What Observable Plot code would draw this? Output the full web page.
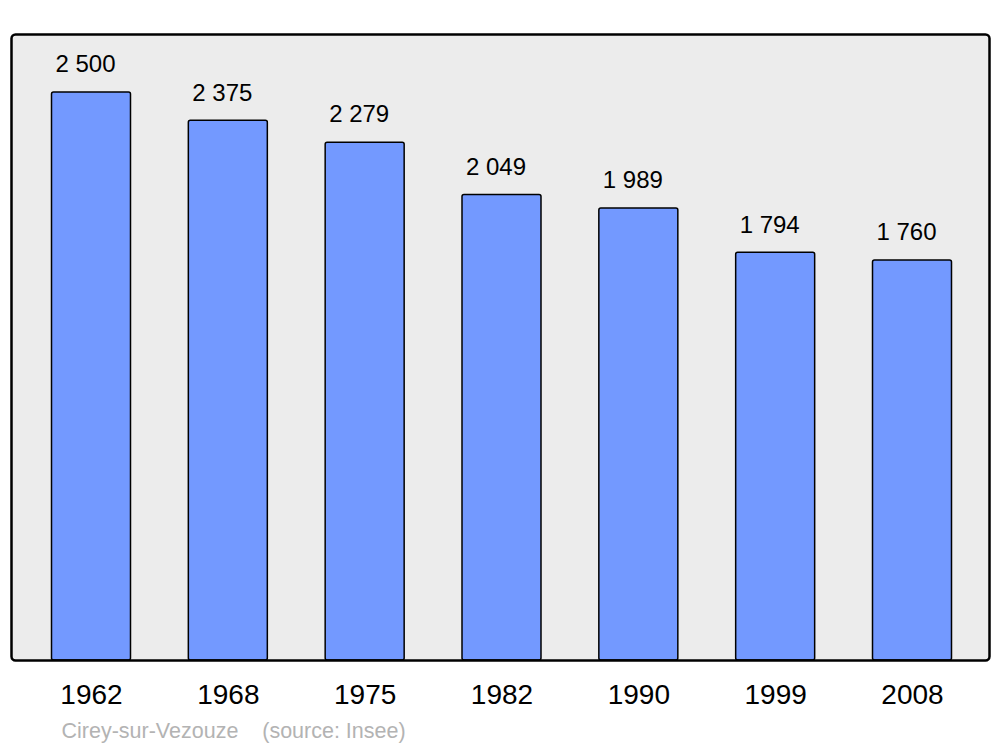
<!DOCTYPE html>
<html>
<head>
<meta charset="utf-8">
<script src="https://cdn.jsdelivr.net/npm/d3@7"></script>
<script src="https://cdn.jsdelivr.net/npm/@observablehq/plot@0.6"></script>
<style>
  html, body { margin: 0; padding: 0; background: #ffffff; }
  #chart svg { display: block; }
</style>
</head>
<body>
<div id="chart"></div>
<script>
const years = ["1962", "1968", "1975", "1982", "1990", "1999", "2008"];
const population = [2500, 2375, 2279, 2049, 1989, 1794, 1760];
const caption = "Cirey-sur-Vezouze\u00a0\u00a0\u00a0\u00a0(source: Insee)";

const data = years.map((y, i) => ({year: y, pop: population[i]}));
const fmt = d3.formatLocale({decimal: ",", thousands: "\u00a0", grouping: [3], currency: ["", ""]}).format(",");

const chart = Plot.plot({
  width: 1000,
  height: 747,
  marginLeft: 11,
  marginRight: 11,
  marginTop: 34,
  marginBottom: 87,
  style: {fontFamily: "'Liberation Sans', Arial, sans-serif", background: "#ffffff"},
  x: {domain: years, range: [51.5, 951.5], paddingInner: 0.4227, paddingOuter: 0, round: false, label: null},
  y: {domain: [0, 2755], axis: null},
  marks: [
    Plot.frame({fill: "#ececec", stroke: "none", rx: 4}),
    Plot.barY(data, {x: "year", y: "pop", fill: "#7399ff", stroke: "#000000", strokeWidth: 1.5, rx: 2}),
    Plot.text(data, {x: "year", y: "pop", text: d => fmt(d.pop), dx: -6, dy: -28, fontSize: 24, fill: "#000000"}),
    Plot.frame({stroke: "#000000", strokeWidth: 2.5, rx: 4}),
    Plot.axisX({tickSize: 0, tickPadding: 24, fontSize: 28, color: "#000000"}),
    Plot.text([caption], {frameAnchor: "bottom-left", dx: 50, dy: 77, textAnchor: "start", fontSize: 21.5, fill: "#b3b3b3"})
  ]
});
document.getElementById("chart").appendChild(chart);
</script>
</body>
</html>
